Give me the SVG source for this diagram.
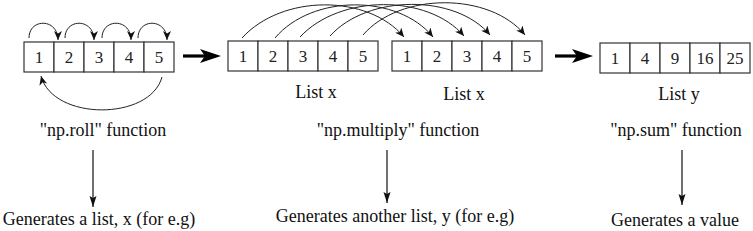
<svg xmlns="http://www.w3.org/2000/svg" width="753" height="231" viewBox="0 0 753 231">
<defs>
<style>
.cell{fill:#fff;stroke:#333;stroke-width:1.2}
.num{font-family:"Liberation Serif","Times New Roman",serif;font-size:17px;fill:#222;text-anchor:middle}
.lbl{font-family:"Liberation Serif","Times New Roman",serif;font-size:18px;fill:#111;text-anchor:middle}
.arc{fill:none;stroke:#222;stroke-width:1;marker-end:url(#ah)}
.down{fill:none;stroke:#111;stroke-width:1.2;marker-end:url(#ah2)}
.big{fill:#000;stroke:none}
</style>
<marker id="ah" markerUnits="userSpaceOnUse" markerWidth="10" markerHeight="8" refX="9" refY="4" orient="auto">
<path d="M0,0 L9,4 L0,8 L2.5,4 z" fill="#111"/>
</marker>
<marker id="ah2" markerUnits="userSpaceOnUse" markerWidth="12" markerHeight="8" refX="11" refY="4" orient="auto">
<path d="M0,0.5 L11,4 L0,7.5 L2,4 z" fill="#111"/>
</marker>
</defs>
<rect width="753" height="231" fill="#fff"/>

<g id="list1">
<rect class="cell" x="24" y="42" width="30" height="30"/>
<rect class="cell" x="54" y="42" width="30" height="30"/>
<rect class="cell" x="84" y="42" width="30" height="30"/>
<rect class="cell" x="114" y="42" width="30" height="30"/>
<rect class="cell" x="144" y="42" width="30" height="30"/>
<text class="num" x="39" y="63">1</text>
<text class="num" x="69" y="63">2</text>
<text class="num" x="99" y="63">3</text>
<text class="num" x="129" y="63">4</text>
<text class="num" x="159" y="63">5</text>
</g>

<g id="list2">
<rect class="cell" x="228" y="41" width="30" height="30"/>
<rect class="cell" x="258" y="41" width="30" height="30"/>
<rect class="cell" x="288" y="41" width="30" height="30"/>
<rect class="cell" x="318" y="41" width="30" height="30"/>
<rect class="cell" x="348" y="41" width="30" height="30"/>
<text class="num" x="243" y="62">1</text>
<text class="num" x="273" y="62">2</text>
<text class="num" x="303" y="62">3</text>
<text class="num" x="333" y="62">4</text>
<text class="num" x="363" y="62">5</text>
<text class="lbl" x="316" y="98">List x</text>
</g>

<g id="list3">
<rect class="cell" x="392" y="41" width="30" height="30"/>
<rect class="cell" x="422" y="41" width="30" height="30"/>
<rect class="cell" x="452" y="41" width="30" height="30"/>
<rect class="cell" x="482" y="41" width="30" height="30"/>
<rect class="cell" x="512" y="41" width="30" height="30"/>
<text class="num" x="407" y="62">1</text>
<text class="num" x="437" y="62">2</text>
<text class="num" x="467" y="62">3</text>
<text class="num" x="497" y="62">4</text>
<text class="num" x="527" y="62">5</text>
<text class="lbl" x="464" y="100">List x</text>
</g>

<g id="list4">
<rect class="cell" x="600" y="43" width="30" height="30"/>
<rect class="cell" x="630" y="43" width="30" height="30"/>
<rect class="cell" x="660" y="43" width="30" height="30"/>
<rect class="cell" x="690" y="43" width="30" height="30"/>
<rect class="cell" x="720" y="43" width="30" height="30"/>
<text class="num" x="615" y="64">1</text>
<text class="num" x="645" y="64">4</text>
<text class="num" x="675" y="64">9</text>
<text class="num" x="705" y="64">16</text>
<text class="num" x="735" y="64">25</text>
<text class="lbl" x="679" y="100">List y</text>
</g>

<g id="roll">
<text class="lbl" x="103" y="136">"np.roll" function</text>
<text class="lbl" x="99" y="225">Generates a list, x (for e.g)</text>
</g>

<g id="multiply">
<text class="lbl" x="398" y="136">"np.multiply" function</text>
<text class="lbl" x="395" y="222">Generates another list, y (for e.g)</text>
</g>

<g id="sum">
<text class="lbl" x="676" y="136">"np.sum" function</text>
<text class="lbl" x="675" y="226">Generates a value</text>
</g>

<g id="connectors">
<path class="arc" d="M29,38 C29,18 58,18 58,40"/>
<path class="arc" d="M65,38 C65,18 94,18 94,40"/>
<path class="arc" d="M102,38 C102,18 131,18 131,40"/>
<path class="arc" d="M138,38 C138,18 167,18 167,40"/>
<path class="arc" d="M162,77 C150,121 53,121 41,76"/>

<path class="arc" d="M242,38 C282,-6 368,-6 404,37"/>
<path class="arc" d="M275,38 C312,-6 398,-6 433,37"/>
<path class="arc" d="M300,37 C340,-6 428,-6 464,36"/>
<path class="arc" d="M330,36 C368,-6 456,-6 490,35"/>
<path class="arc" d="M363,35 C400,-8 490,-8 525,35"/>

<line x1="183" y1="56" x2="205" y2="56" stroke="#000" stroke-width="3.2"/>
<path class="big" d="M221,56 L200,49 L205,56 L200,63 z"/>
<line x1="555" y1="56" x2="577" y2="56" stroke="#000" stroke-width="3.2"/>
<path class="big" d="M593,56 L572,49 L577,56 L572,63 z"/>

<line class="down" x1="93" y1="150" x2="93" y2="207"/>
<line class="down" x1="387" y1="150" x2="387" y2="203"/>
<line class="down" x1="682" y1="150" x2="682" y2="205"/>
</g>
</svg>
